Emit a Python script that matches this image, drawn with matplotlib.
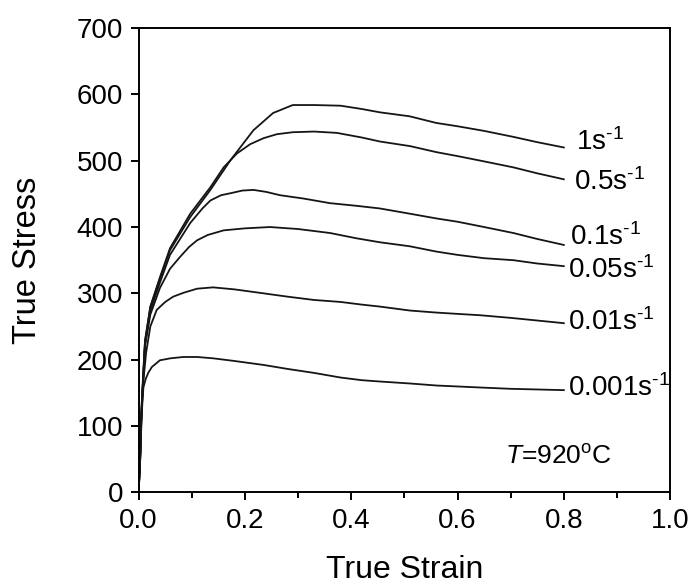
import matplotlib
matplotlib.use("Agg")
import matplotlib.pyplot as plt
from matplotlib.ticker import MultipleLocator

plt.rcParams["font.family"] = ["Liberation Sans", "DejaVu Sans"]
plt.rcParams["mathtext.fontset"] = "custom"
plt.rcParams["mathtext.rm"] = "Liberation Sans"
plt.rcParams["mathtext.it"] = "Liberation Sans:italic"
plt.rcParams["mathtext.default"] = "regular"

# strain / stress, one pair per strain rate
strain_1 = [0, 0.003, 0.005, 0.008, 0.012, 0.022, 0.040, 0.059, 0.097, 0.135, 0.173,
            0.216, 0.253, 0.29, 0.33, 0.38, 0.42, 0.454, 0.51, 0.56, 0.60, 0.65,
            0.705, 0.75, 0.80]
stress_1 = [0, 60, 120, 169, 229, 279, 322, 365, 415, 456, 501, 546, 572, 584, 584,
            583, 578, 573, 567, 557, 552, 545, 536, 528, 520]

strain_05 = [0, 0.003, 0.005, 0.008, 0.012, 0.022, 0.040, 0.059, 0.097, 0.135, 0.160,
             0.185, 0.21, 0.235, 0.26, 0.29, 0.33, 0.373, 0.42, 0.454, 0.511, 0.56,
             0.60, 0.65, 0.705, 0.75, 0.80]
stress_05 = [0, 58, 117, 166, 227, 280, 324, 368, 420, 460, 490, 511, 525, 534, 540,
             543, 544, 542, 535, 529, 522, 513, 507, 499, 490, 481, 472]

strain_01 = [0, 0.003, 0.005, 0.008, 0.012, 0.022, 0.040, 0.059, 0.097, 0.120, 0.135,
             0.155, 0.173, 0.195, 0.216, 0.24, 0.266, 0.31, 0.36, 0.41, 0.454, 0.511,
             0.56, 0.60, 0.65, 0.705, 0.75, 0.80]
stress_01 = [0, 56, 114, 163, 224, 274, 316, 358, 406, 428, 440, 448, 451, 455, 456,
             453, 448, 443, 436, 432, 428, 420, 413, 408, 400, 391, 382, 373]

strain_005 = [0, 0.003, 0.005, 0.008, 0.012, 0.022, 0.040, 0.059, 0.078, 0.095, 0.11,
              0.13, 0.16, 0.20, 0.247, 0.30, 0.36, 0.41, 0.454, 0.51, 0.56, 0.60,
              0.65, 0.705, 0.75, 0.80]
stress_005 = [0, 54, 110, 160, 220, 268, 308, 337, 355, 370, 380, 388, 395, 398, 400,
              397, 391, 383, 377, 371, 363, 358, 353, 350, 345, 341]

strain_001 = [0, 0.003, 0.005, 0.008, 0.014, 0.022, 0.034, 0.05, 0.065, 0.085, 0.11,
              0.14, 0.18, 0.235, 0.28, 0.33, 0.38, 0.42, 0.454, 0.511, 0.56, 0.60,
              0.642, 0.70, 0.75, 0.80]
stress_001 = [0, 52, 105, 160, 210, 250, 275, 287, 295, 301, 307, 309, 306, 300, 295,
              290, 287, 283, 280, 274, 271, 269, 267, 263, 259, 255]

strain_0001 = [0, 0.003, 0.005, 0.007, 0.009, 0.013, 0.018, 0.025, 0.04, 0.06, 0.084,
               0.11, 0.14, 0.18, 0.235, 0.28, 0.33, 0.38, 0.42, 0.454, 0.511, 0.56,
               0.642, 0.70, 0.75, 0.80]
stress_0001 = [0, 50, 100, 135, 158, 170, 180, 189, 199, 202, 204, 204, 202, 198, 192,
               186, 180, 173, 169, 167, 164, 161, 158, 156, 155, 154]

rate_labels = ["1s$^{\\text{-1}}$", "0.5s$^{\\text{-1}}$", "0.1s$^{\\text{-1}}$",
               "0.05s$^{\\text{-1}}$", "0.01s$^{\\text{-1}}$", "0.001s$^{\\text{-1}}$"]
label_x = [0.823, 0.819, 0.812, 0.808, 0.807, 0.807]
label_y = [528, 468, 385, 335, 256, 157]

curves = [
    (strain_1, stress_1),
    (strain_05, stress_05),
    (strain_01, stress_01),
    (strain_005, stress_005),
    (strain_001, stress_001),
    (strain_0001, stress_0001),
]

fig = plt.figure(figsize=(6.88, 5.86), dpi=100)
ax = fig.add_axes([0.2015, 0.160, 0.7725, 0.792])

for x, y in curves:
    ax.plot(x, y, color="#151515", lw=1.3)

for lx, ly, txt in zip(label_x, label_y, rate_labels):
    ax.text(lx, ly, txt, fontsize=20, ha="left", va="center")

ax.text(0.69, 54, r"$\mathit{T}$=920$^{\mathrm{o}}$C", fontsize=19, ha="left", va="center")

ax.set_xlim(0, 1.0)
ax.set_ylim(0, 700)
ax.set_xticks([0, 0.2, 0.4, 0.6, 0.8, 1.0])
ax.set_xticklabels(["0.0", "0.2", "0.4", "0.6", "0.8", "1.0"])
ax.set_yticks(range(0, 701, 100))
ax.xaxis.set_minor_locator(MultipleLocator(0.1))

ax.tick_params(axis="both", which="major", direction="out", length=6, width=1.4,
               labelsize=20, pad=5)
ax.tick_params(axis="x", which="minor", direction="out", length=4, width=1.4)
ax.tick_params(top=False, right=False)
for s in ax.spines.values():
    s.set_linewidth(1.4)

ax.set_xlabel("True Strain", fontsize=23)
ax.set_ylabel("True Stress", fontsize=23.5)
ax.xaxis.set_label_coords(0.5, -0.135)
ax.yaxis.set_label_coords(-0.18, 0.5)

fig.savefig("out.png", dpi=100)
